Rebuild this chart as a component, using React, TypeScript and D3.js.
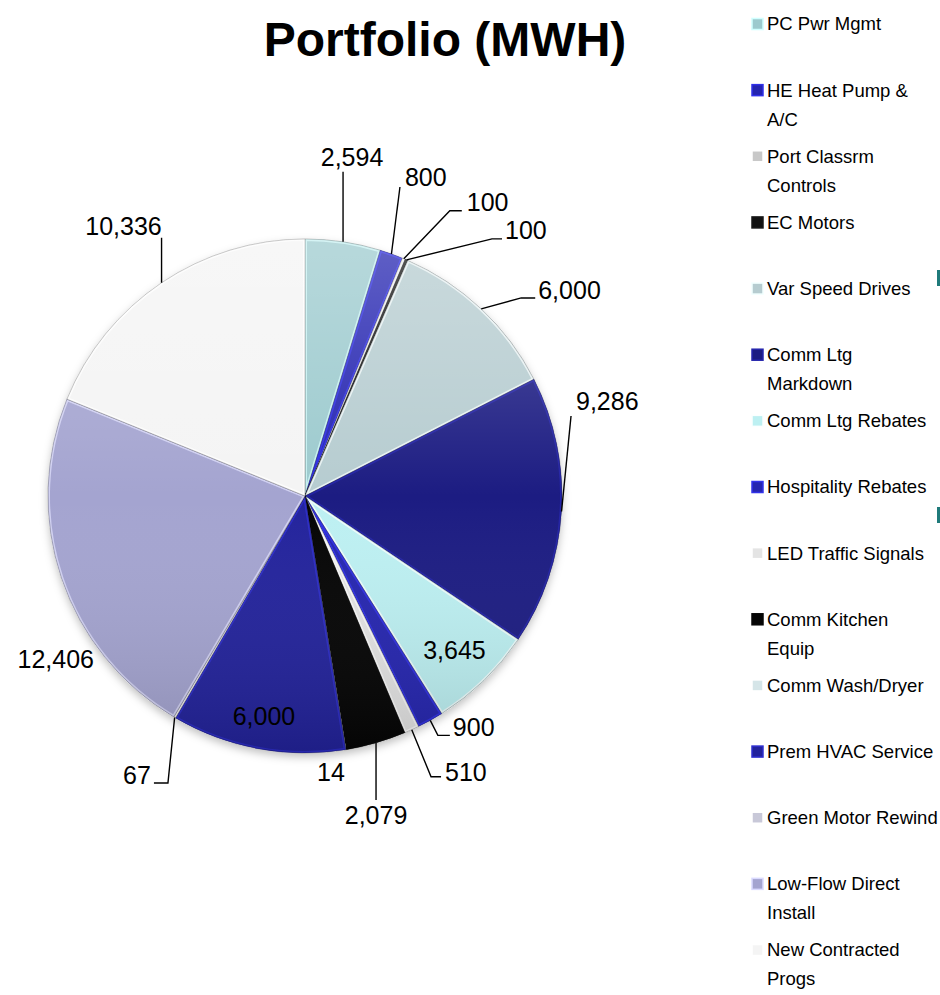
import React from 'react';
import * as d3 from 'd3';

const categories = [
  'PC Pwr Mgmt', 'HE Heat Pump & A/C', 'Port Classrm Controls', 'EC Motors',
  'Var Speed Drives', 'Comm Ltg Markdown', 'Comm Ltg Rebates', 'Hospitality Rebates',
  'LED Traffic Signals', 'Comm Kitchen Equip', 'Comm Wash/Dryer', 'Prem HVAC Service',
  'Green Motor Rewind', 'Low-Flow Direct Install', 'New Contracted Progs',
];
const legendLines = [
  ['PC Pwr Mgmt'], ['HE Heat Pump &', 'A/C'], ['Port Classrm', 'Controls'], ['EC Motors'],
  ['Var Speed Drives'], ['Comm Ltg', 'Markdown'], ['Comm Ltg Rebates'], ['Hospitality Rebates'],
  ['LED Traffic Signals'], ['Comm Kitchen', 'Equip'], ['Comm Wash/Dryer'], ['Prem HVAC Service'],
  ['Green Motor Rewind'], ['Low-Flow Direct', 'Install'], ['New Contracted', 'Progs'],
];
const values = [2594, 800, 100, 100, 6000, 9286, 3645, 900, 510, 2079, 14, 6000, 67, 12406, 10336];
const colors = [
  '#9CCACE', '#2424B0', '#C8C8C8', '#111111', '#B6CCD0', '#1C1C82', '#BDF0F2', '#2626B0',
  '#E4E4E4', '#050505', '#D5E5E8', '#23239C', '#C8C8D8', '#A4A4D0', '#F4F4F4',
];

// label layout: offsets relative to the slice's outer-arc midpoint
type Lay = { kind: 'in' | 'out'; r?: number; leader?: number[][]; text?: number[]; anchor?: string };
const labelLayout: Lay[] = [
  { kind: 'out', leader: [[0, -70]], text: [9, -85], anchor: 'middle' },
  { kind: 'out', leader: [[8.5, -67]], text: [13.5, -77], anchor: 'start' },
  { kind: 'out', leader: [[46, -48], [58, -48]], text: [63, -57], anchor: 'start' },
  { kind: 'out', leader: [[85.5, -21], [95.5, -21]], text: [98.5, -30], anchor: 'start' },
  { kind: 'out', leader: [[40, -11], [54, -11]], text: [57, -19], anchor: 'start' },
  { kind: 'out', leader: [[9.5, -95.5]], text: [14.5, -110], anchor: 'start' },
  { kind: 'in', r: 0.836 },
  { kind: 'out', leader: [[7.6, 15], [19.6, 15]], text: [22.6, 7], anchor: 'start' },
  { kind: 'out', leader: [[19.3, 47], [29.3, 47]], text: [33.3, 42], anchor: 'start' },
  { kind: 'out', leader: [[0, 57]], text: [0, 72], anchor: 'middle' },
  { kind: 'out', leader: [], text: [-15, 23], anchor: 'middle' },
  { kind: 'in', r: 0.87 },
  { kind: 'out', leader: [[-6.7, 65.5], [-20.7, 65.5]], text: [-23.7, 57.5], anchor: 'end' },
  { kind: 'out', leader: [], text: [32.6, 81], anchor: 'end' },
  { kind: 'out', leader: [[0, -45]], text: [-38, -57], anchor: 'middle' },
];

const W = 940, H = 995;
const cx = 305, cy = 496, R = 257;
const FONT = '"Liberation Sans", Arial, Helvetica, sans-serif';
const fmt = d3.format(',');

export default function App() {
  const pie = d3.pie<number>().sort(null).value((d) => d).startAngle(0).endAngle(2 * Math.PI);
  const arcs = pie(values);
  const arcGen = d3.arc<d3.PieArcDatum<number>>().innerRadius(0).outerRadius(R);
  const legendY = d3.scalePoint<string>().domain(categories).range([24, 950]);

  return (
    <svg width={W} height={H} style={{ position: 'absolute', left: 0, top: 0, background: '#fff' }}>
      <defs>
        <linearGradient id="shade" x1="0" y1="0" x2="0" y2="1">
          <stop offset="0" stopColor="#fff" stopOpacity={0.28} />
          <stop offset="0.5" stopColor="#fff" stopOpacity={0} />
          <stop offset="1" stopColor="#000" stopOpacity={0.14} />
        </linearGradient>
        <filter id="shadow" x="-10%" y="-10%" width="120%" height="125%">
          <feDropShadow dx="0" dy="4" stdDeviation="4" floodColor="#000" floodOpacity="0.25" />
        </filter>
        {arcs.map((a, i) => (
          <clipPath id={`clip${i}`} key={i}>
            <path d={arcGen(a) || ''} />
          </clipPath>
        ))}
      </defs>

      <text x={445} y={56} textAnchor="middle" fontFamily={FONT} fontWeight="bold" fontSize={48} fill="#000">
        Portfolio (MWH)
      </text>

      <g transform={`translate(${cx},${cy})`}>
        <circle r={R} fill="#fff" filter="url(#shadow)" />
        {arcs.map((a, i) => (
          <g key={i}>
            <path d={arcGen(a) || ''} fill={colors[i]} />
            <path
              d={arcGen(a) || ''}
              fill="none"
              stroke={d3.color(colors[i])!.brighter(0.9).formatHex()}
              strokeOpacity={0.7}
              strokeWidth={4}
              clipPath={`url(#clip${i})`}
            />
            <path d={arcGen(a) || ''} fill="none" stroke="#000" strokeOpacity={0.3} strokeWidth={0.8} />
          </g>
        ))}
        <circle r={R} fill="url(#shade)" />
      </g>

      <g fontFamily={FONT} fontSize={25} fill="#000">
        {arcs.map((a, i) => {
          const lay = labelLayout[i];
          const mid = (a.startAngle + a.endAngle) / 2;
          const label = fmt(values[i]);
          if (lay.kind === 'in') {
            const rr = R * (lay.r || 0.8);
            return (
              <text key={i} x={cx + rr * Math.sin(mid)} y={cy - rr * Math.cos(mid)} dy="0.35em" textAnchor="middle">
                {label}
              </text>
            );
          }
          const ax = cx + R * Math.sin(mid);
          const ay = cy - R * Math.cos(mid);
          const pts = [[ax, ay], ...(lay.leader || []).map(([dx, dy]) => [ax + dx, ay + dy])];
          const line = d3.line()(pts as [number, number][]);
          return (
            <g key={i}>
              {pts.length > 1 && <path d={line || ''} fill="none" stroke="#000" strokeWidth={1.4} />}
              <text x={ax + lay.text![0]} y={ay + lay.text![1]} dy="0.35em" textAnchor={lay.anchor as any}>
                {label}
              </text>
            </g>
          );
        })}
      </g>

      <g fontFamily={FONT} fontSize={18.5} fill="#000">
        {categories.map((c, i) => {
          const y = legendY(c)!;
          return (
            <g key={c}>
              <rect x={752} y={y - 5.5} width={11} height={11} fill={colors[i]} stroke={d3.color(colors[i])!.brighter(0.8).formatHex()} strokeWidth={1.5} />
              {legendLines[i].map((ln, j) => (
                <text key={j} x={767} y={y + j * 29} dy="0.35em">
                  {ln}
                </text>
              ))}
            </g>
          );
        })}
      </g>

      <rect x={937} y={270} width={3} height={16} fill="#1F7A7A" />
      <rect x={937} y={507} width={3} height={16} fill="#1F7A7A" />
    </svg>
  );
}
